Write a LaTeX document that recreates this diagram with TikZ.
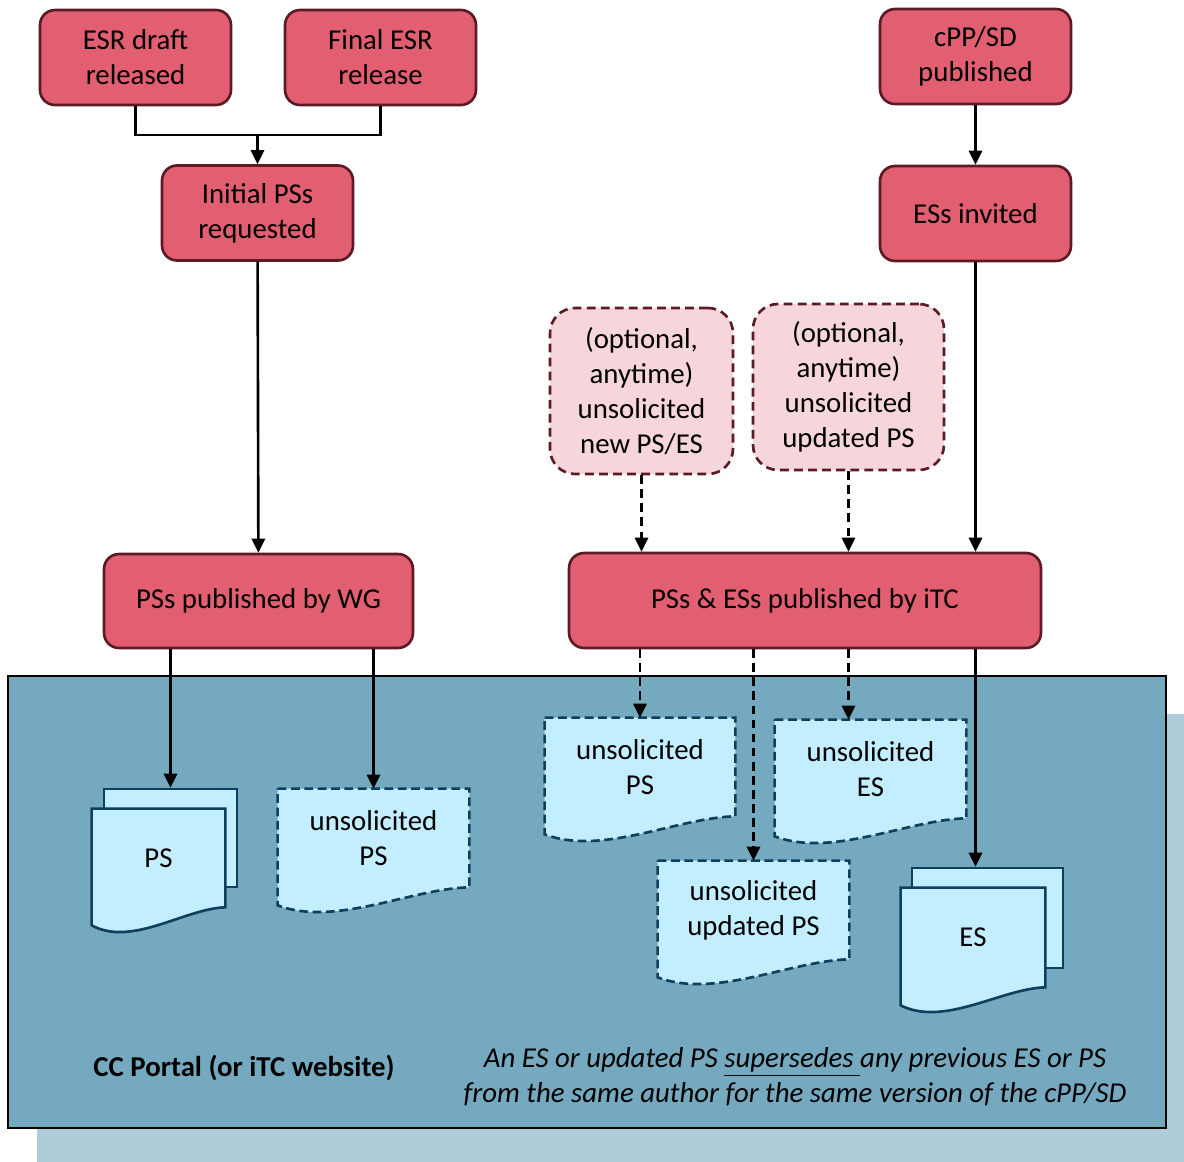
\documentclass[tikz,border=0pt]{standalone}
\usepackage{fontspec}
\setmainfont{Carlito}
\usetikzlibrary{arrows.meta, calc, positioning}

\definecolor{boxred}{HTML}{E15F70}
\definecolor{boxline}{HTML}{5C1A24}
\definecolor{optpink}{HTML}{F6D6DA}
\definecolor{docfill}{HTML}{C2EEFF}
\definecolor{docblue}{HTML}{0F3F5E}
\definecolor{portalblue}{HTML}{75A9BF}
\definecolor{shadowblue}{HTML}{AFCDD9}

\pgfdeclarelayer{portal}
\pgfdeclarelayer{docs}
\pgfsetlayers{portal,docs,main}

\tikzset{
  redbox/.style={rectangle, rounded corners=0.3cm, draw=boxline, fill=boxred,
    line width=1.5pt, align=center, minimum width=3.82cm, minimum height=1.9cm},
  optbox/.style={rectangle, rounded corners=0.5cm, draw=boxline, fill=optpink,
    line width=1.5pt, dash pattern=on 5pt off 3pt, align=center,
    minimum width=3.82cm, minimum height=3.32cm},
  docnode/.style={rectangle, inner sep=0pt, align=center,
    minimum width=3.82cm, minimum height=1.96cm},
  docline/.style={draw=docblue, fill=docfill, line width=1.5pt},
  backdoc/.style={docnode, docline},
  dashdoc/.style={dash pattern=on 5pt off 2.6pt},
  arr/.style={-{Triangle[length=8pt,width=7.5pt]}, line width=1.5pt},
  dasharr/.style={arr, dash pattern=on 5pt off 3pt},
}

% document outline with wavy bottom, drawn behind the node text
\newcommand{\docshape}[2][]{%
  \begin{pgfonlayer}{docs}
  \draw[docline,#1] (#2.north west) -- (#2.north east) -- (#2.south east)
    .. controls ($(#2.south west)!0.7!(#2.south east)+(0,1)$)
           and ($(#2.south west)!0.3!(#2.south east)+(0,40)$)
    .. ($(#2.south west)+(0,18)$) -- cycle;
  \end{pgfonlayer}}

\begin{document}
\begin{tikzpicture}[x=0.02cm, y=-0.02cm, font=\fontsize{16.4}{19.9}\selectfont]
\useasboundingbox (0,0) rectangle (1184,1162);

% portal background
\begin{pgfonlayer}{portal}
\fill[shadowblue] (37,714) rectangle (1184,1162);
\draw[fill=portalblue, line width=1.5pt] (8,676) rectangle (1166,1128);
\end{pgfonlayer}

% events
\node[redbox] (draft) at (135.5,57.5) {ESR draft\\released};
\node[redbox] (final) at (380.5,57.5) {Final ESR\\release};
\node[redbox] (initial) at (257.5,213) {Initial PSs\\requested};
\node[redbox] (cpp) at (975.5,56.5) {cPP/SD\\published};
\node[redbox] (invited) at (975.5,213.5) {ESs invited};
\node[redbox, minimum width=6.18cm, minimum height=1.88cm] (wg) at (258.5,601) {PSs published by WG};
\node[redbox, minimum width=9.44cm] (itc) at (805,600.5) {PSs \& ESs published by iTC};

\node[optbox, minimum width=3.66cm] (optnew) at (641.5,391) {(optional,\\anytime)\\unsolicited\\new PS/ES};
\node[optbox] (optupd) at (848.5,387) {(optional,\\anytime)\\unsolicited\\updated PS};

% documents on the portal
\begin{pgfonlayer}{docs}
\node[backdoc, minimum width=2.66cm] (psback) at (170.5,838) {};
\node[backdoc, minimum width=3.02cm, minimum height=2cm] (esback) at (987.5,918) {};
\end{pgfonlayer}

\node[docnode, minimum width=2.66cm] (psfront) at (158.5,858) {PS};
\docshape{psfront}
\node[docnode] (unsolwg) at (373.5,838) {unsolicited\\PS};
\docshape[dashdoc]{unsolwg}
\node[docnode, minimum width=3.8cm] (unsolps) at (640,767) {unsolicited\\PS};
\docshape[dashdoc]{unsolps}
\node[docnode] (unsoles) at (870.5,769) {unsolicited\\ES};
\docshape[dashdoc]{unsoles}
\node[docnode] (unsolupd) at (753.5,910) {unsolicited\\updated PS};
\docshape[dashdoc]{unsolupd}
\node[docnode, minimum width=2.88cm, minimum height=1.98cm] (esfront) at (973,937.5) {ES};
\docshape{esfront}

% connectors
\coordinate (merge) at (257.5,135);
\draw[line width=1.5pt] (draft.south) |- (merge) -| (final.south);
\draw[arr] (merge) -- (initial.north);
\draw[arr] (initial) -- (wg);
\draw[arr] (cpp) -- (invited);
\draw[arr] (invited.south) -- (invited.south |- itc.north);
\draw[dasharr] (optnew.south) -- (optnew.south |- itc.north);
\draw[dasharr] (optupd.south) -- (optupd.south |- itc.north);

\draw[arr] (wg.south -| psback.north) -- (psback.north);
\draw[arr] (wg.south -| unsolwg.north) -- (unsolwg.north);
\draw[dasharr] (itc.south -| unsolps.north) -- (unsolps.north);
\draw[dasharr] (itc.south -| unsolupd.north) -- (unsolupd.north);
\draw[dasharr] (itc.south -| optupd.south) -- (optupd.south |- unsoles.north);
\draw[arr] (itc.south -| invited.south) -- (invited.south |- esback.north);

% labels
\node[font=\fontsize{16.4}{19.9}\selectfont\bfseries] (portal) at (244,1068) {CC Portal (or iTC website)};
\node[font=\fontsize{16.4}{19.9}\selectfont\itshape, align=center] (note) at (795,1077)
  {An ES or updated PS \underline{supersedes\ }any previous ES or PS\\from the same author for the same version of the cPP/SD};
\end{tikzpicture}
\end{document}
